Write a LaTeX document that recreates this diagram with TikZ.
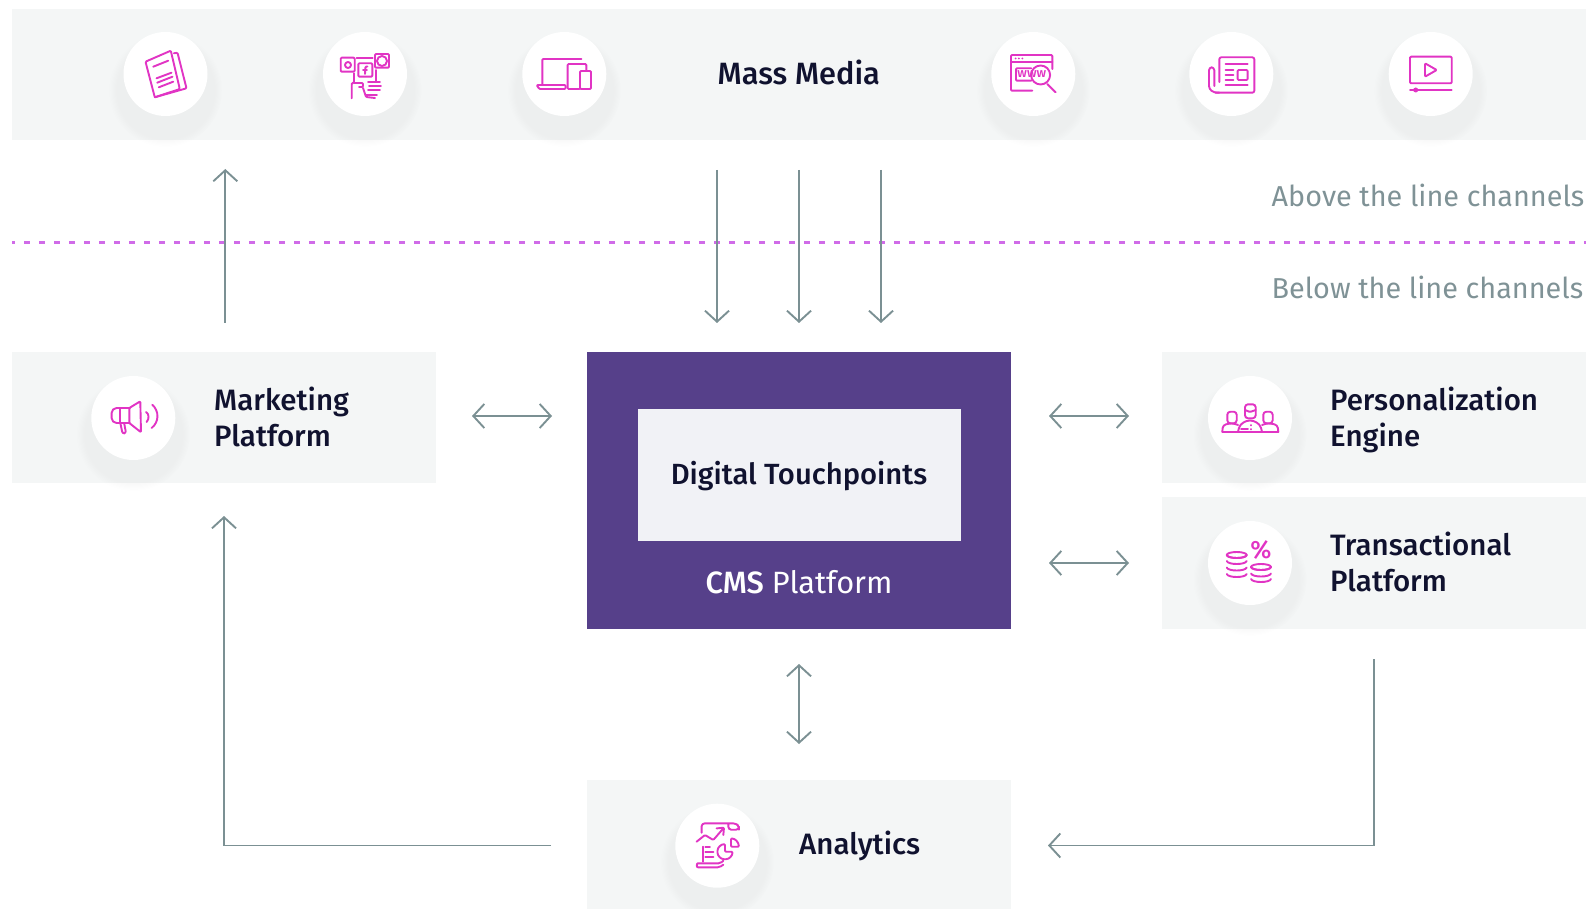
\documentclass[tikz,border=0pt]{standalone}
\usepackage{fontspec}
\setmainfont{Fira Sans}[BoldFont={Fira Sans Medium}]
\usepackage{tikz}
\usetikzlibrary{arrows.meta,shadows,positioning,calc}

\definecolor{bandgray}{HTML}{F4F6F6}
\definecolor{cmspurple}{HTML}{56408A}
\definecolor{innergray}{HTML}{F1F2F6}
\definecolor{inkdark}{HTML}{10122F}
\definecolor{flowgray}{HTML}{7B9093}
\definecolor{notegray}{HTML}{7F9296}
\definecolor{iconpink}{HTML}{E134C4}
\definecolor{dotpurple}{HTML}{D06BE8}

\tikzset{
  band/.style={fill=bandgray,inner sep=0pt},
  lbl/.style={anchor=west,align=left,inner sep=0pt,text=inkdark,font=\fontsize{29.5}{35.5}\selectfont\bfseries},
  note/.style={anchor=west,inner sep=0pt,text=notegray,font=\fontsize{28.8}{36}\selectfont},
  iconcircle/.style={circle,fill=white,minimum size=84pt,inner sep=0pt,
    circular drop shadow={shadow xshift=0pt,shadow yshift=-12pt,shadow scale=1.35,opacity=.06}},
  flow/.style={draw=flowgray,line width=1.9pt,{Straight Barb[length=11pt,width=24pt]}-{Straight Barb[length=11pt,width=24pt]}},
  flowto/.style={draw=flowgray,line width=1.9pt,-{Straight Barb[length=11pt,width=24pt]}},
  ico/.style={draw=iconpink,line width=1.9pt,line cap=round,line join=round,rounded corners=1pt},
  pics/paperico/.style={code={
    \draw[ico] (-20,-12.3) -- (5.3,-23.3) -- (14.3,15) -- (-10.7,23.3) -- cycle;
    \draw[ico] (8.3,-20.7) -- (12,-21.3) -- (21,14.3) -- (-10.7,23.3);
    \draw[ico] (-12.3,-7.3) -- (2.7,-13.3) (-9,4.3) -- (6,-1.3) (-8.3,8.7) -- (7,2.7) (-6.7,13.3) -- (7.7,7.7);
  }},
  pics/socialico/.style={code={
    \draw[ico] (-24.3,-16.3) rectangle (-10.3,-2.3) (-6.7,-10.7) rectangle (7.3,2.7) (10,-20) rectangle (24,-6.3);
    \draw[ico] (-8.3,-15.7) -- (7.7,-15.7);
    \draw[ico] (-17,-9) circle (3) (17,-13) circle (5);
    \draw[ico] (2.5,-7.5) -- (0.5,-7.5) -- (0,0) (-2,-4) -- (2,-4);
    \draw[ico] (-11,-0.7) -- (-11,9) -- (-13.3,9) -- (-13.3,24.3) (-11,9) -- (-2,9) -- (-2,13) -- (-6,13);
    \draw[ico] (11,-4) -- (11,7) (3,8) -- (15,8) (4,12) -- (16,12) (3,16) -- (15,16) (1,21) -- (12,21) (-2,14) -- (1,23) -- (10,24);
  }},
  pics/devicesico/.style={code={
    \draw[ico] (-22,10) -- (-22,-15) -- (17,-15);
    \draw[ico] (-27.7,11) -- (1.3,11) -- (1.3,15) -- (-25,15) -- cycle;
    \draw[ico] (15,15) -- (3.3,15) -- (3.3,-10) -- (22,-10) -- (22,-3);
    \draw[ico] (15.7,-3) rectangle (26.7,15);
  }},
  pics/wwwico/.style={code={
    \draw[ico] (-1,16.7) -- (-22.3,16.7) -- (-22.3,-19) -- (19,-19) -- (19,-5);
    \draw[ico] (-22.3,-12.3) -- (19,-12.3);
    \fill[iconpink] (-17.7,-15.5) circle (1) (-14.5,-15.5) circle (1) (-11,-15.5) circle (1);
    \draw[ico] (-2,6.7) -- (-17.3,6.7) -- (-17.3,-5.7) -- (-2,-5.7);
    \draw[ico] (7.3,1) circle (9.5);
    \draw[ico] (14,10) -- (22.3,18.3);
    \node[inner sep=0pt,text=iconpink,font=\fontsize{13}{13}\selectfont\bfseries] (www) at (-1.5,0.5) {www};
  }},
  pics/newsico/.style={code={
    \draw[ico,rounded corners=2pt] (-12,8) -- (-12,-16.7) -- (23,-16.7) -- (23,18.7) -- (-16,18.7);
    \draw[ico,rounded corners=3pt] (-12,18.7) -- (-17,18.7) -- (-22.3,15) -- (-22.3,-6.7) -- (-17,-6.7) -- (-17,12);
    \draw[ico] (-5.7,-10) -- (16.3,-10) (-5.7,11) -- (16.3,11);
    \draw[ico] (-5.7,-4) -- (2,-4) (-5.7,1) -- (2,1) (-5.7,6) -- (2,6);
    \draw[ico] (6.3,-4) rectangle (16.3,6);
  }},
  pics/videoico/.style={code={
    \draw[ico] (-20.7,-17.3) rectangle (21,9.3);
    \draw[ico] (-5.7,-10.7) -- (6,-4) -- (-5.7,2.7) -- cycle;
    \draw[ico] (-20.7,16) -- (21,16);
    \fill[iconpink] (-15,16) circle (2.5);
  }},
  pics/megaico/.style={code={
    \draw[ico] (-4,-10) -- (7,-16.7) -- (7.7,14.3) -- (-4,5) -- cycle;
    \draw[ico,rounded corners=5pt] (-4,-10) -- (-21.7,-10) -- (-21.7,5) -- (-4,5);
    \draw[ico] (-13,-10) -- (-13,5);
    \draw[ico,rounded corners=2pt] (-13,5) -- (-10.7,15.7) -- (-7.3,15) -- (-9,6);
    \draw[ico] (12.7,-6) .. controls (16,-4) and (16,1) .. (13.3,4);
    \draw[ico] (19,-13.3) .. controls (26,-7) and (26,4) .. (18.3,10);
  }},
  pics/peopleico/.style={code={
    \draw[ico] (-27.7,13.7) -- (28.3,13.7);
    \draw[ico,rounded corners=3pt] (-5,-13.7) rectangle (5.7,0.3);
    \draw[ico] (-5,-8) -- (0,-6) -- (5.7,-8);
    \draw[ico,rounded corners=3pt] (-22.7,-6.3) rectangle (-13.3,5.3);
    \draw[ico,rounded corners=3pt] (13.3,-6.3) rectangle (22.7,5.3);
    \draw[ico,rounded corners=4pt] (-12,13.7) -- (-10,6) -- (0,1.5) -- (10,6) -- (12,13.7);
    \draw[ico,rounded corners=3pt] (-27.7,13.7) -- (-27,7) -- (-18,5) -- (-12,7);
    \draw[ico,rounded corners=3pt] (28.3,13.7) -- (27.5,7) -- (18,5) -- (12,7);
    \draw[ico] (-9,11) -- (-2,11) (1,7) -- (1,7.5) (1,11) -- (1,11.5);
  }},
  pics/coinsico/.style={code={
    \foreach \yy in {-8,-2,4.5,11} {
      \draw[ico] (-23.3,\yy) .. controls (-22,\yy+4) and (-4.6,\yy+4) .. (-3.3,\yy);
    }
    \draw[ico] (-13.3,-8) ellipse (10 and 3);
    \foreach \yy in {4,10.5,16} {
      \draw[ico] (1,\yy) .. controls (2.3,\yy+4) and (19.7,\yy+4) .. (21,\yy);
    }
    \draw[ico] (11,4) ellipse (10 and 3);
    \node[inner sep=0pt,text=iconpink,font=\fontsize{25}{25}\selectfont\bfseries] (pct) at (11,-13.5) {\%};
  }},
  pics/analyticsico/.style={code={
    \draw[ico,rounded corners=3pt] (-15.7,-13) -- (-15.7,-22.3) -- (19,-22.3) -- (21.7,-19) -- (21.7,-16) -- (11,-16) -- (11,-22);
    \draw[ico] (-20.7,-4) -- (-12.3,-10.7) -- (-4,-5.7) -- (6,-17.3);
    \draw[ico] (-0.7,-17.3) -- (6.7,-18) -- (6,-10.7);
    \draw[ico] (-14,1) -- (-14,16);
    \draw[ico] (-12,1.7) -- (-7.3,1.7) (-12,6) -- (-4,6) (-12,11) -- (-4,11);
    \draw[ico] (7.7,-1.5) .. controls (3.6,-1.5) and (0.2,1.9) .. (0.2,6) .. controls (0.2,10.1) and (3.6,13.5) .. (7.7,13.5) .. controls (11.8,13.5) and (15.2,10.1) .. (15.2,6) -- (7.7,6) -- cycle;
    \draw[ico] (13.7,-7.3) .. controls (18,-7) and (21,-4) .. (21.7,1) -- (13.7,1) -- cycle;
    \draw[ico,rounded corners=2pt] (-20,17.7) -- (3,17.7) -- (6,15) (-20,17.7) -- (-21,21.7) -- (2,21.7) -- (6,19);
  }},
}

\begin{document}
\begin{tikzpicture}[x=1pt,y=-1pt]
  \useasboundingbox (0,0) rectangle (1591,909);

  % bands
  \node[band,minimum width=1574pt,minimum height=131pt] (mass) at (799,74.5) {};
  \node[band,minimum width=424pt,minimum height=131pt] (mkt) at (224,417.5) {};
  \node[band,minimum width=424pt,minimum height=131pt] (pers) at (1374,417.5) {};
  \node[band,minimum width=424pt,minimum height=132pt] (trans) at (1374,563) {};
  \node[band,minimum width=424.5pt,minimum height=129pt] (ana) at (798.75,844.5) {};
  \node[fill=cmspurple,minimum width=424.5pt,minimum height=277pt,inner sep=0pt] (cms) at (798.75,490.5) {};
  \node[fill=innergray,minimum width=323pt,minimum height=132pt,inner sep=0pt] (touch) at (799,475) {};
  \node[inner sep=0pt,text=inkdark,font=\fontsize{29.2}{36}\selectfont\bfseries] (touchlbl) at (799,476) {Digital Touchpoints};
  \node[inner sep=0pt,text=white,font=\fontsize{30.8}{36}\selectfont] (cmslbl) at (799,582) {\textbf{CMS} Platform};

  % labels
  \node[lbl,font=\fontsize{30.8}{36}\selectfont\bfseries] (masslbl) at (717.5,72) {Mass Media};
  \node[lbl] (mktlbl) at (214,417) {Marketing\\Platform};
  \node[lbl] (perslbl) at (1330,420) {Personalization\\Engine};
  \node[lbl] (translbl) at (1330,562) {Transactional\\Platform};
  \node[lbl] (analbl) at (799,846) {Analytics};
  \node[note] (above) at (1271.5,195) {Above the line channels};
  \node[note] (below) at (1271.5,287) {Below the line channels};

  % icons
  \node[iconcircle] (c1) at (165.5,74) {};
  \node[iconcircle] (c2) at (365,74) {};
  \node[iconcircle] (c3) at (564.3,74) {};
  \node[iconcircle] (c4) at (1033.3,74) {};
  \node[iconcircle] (c5) at (1231.3,74) {};
  \node[iconcircle] (c6) at (1430.7,74) {};
  \node[iconcircle] (c7) at (133.3,418) {};
  \node[iconcircle] (c8) at (1250,418) {};
  \node[iconcircle] (c9) at (1250,563) {};
  \node[iconcircle] (c10) at (717.3,845.7) {};
  \pic at (c1) {paperico};
  \pic at (c2) {socialico};
  \pic at (c3) {devicesico};
  \pic at (c4) {wwwico};
  \pic at (c5) {newsico};
  \pic at (c6) {videoico};
  \pic at (c7) {megaico};
  \pic at (c8) {peopleico};
  \pic at (c9) {coinsico};
  \pic at (c10) {analyticsico};

  % line between channels
  \coordinate (dl) at (12,242.5);
  \coordinate (dr) at (1586,242.5);
  \draw[dotpurple,line width=3pt,dash pattern=on 6pt off 9pt,dash phase=3pt] (dl) -- (dr);

  % free ends of the arrows
  \coordinate (u0) at (225.3,323);
  \coordinate (u1) at (225.3,169);
  \coordinate (d1) at (717,170);
  \coordinate (e1) at (717,323);
  \coordinate (d2) at (799,170);
  \coordinate (e2) at (799,323);
  \coordinate (d3) at (881,170);
  \coordinate (e3) at (881,323);
  \coordinate (h1) at (472,416);
  \coordinate (h2) at (552,416);
  \coordinate (h3) at (1049,416);
  \coordinate (h4) at (1129,416);
  \coordinate (h5) at (1049,563);
  \coordinate (h6) at (1129,563);
  \coordinate (v1) at (799,664);
  \coordinate (v2) at (799,744);
  \coordinate (l1) at (551,845.5);
  \coordinate (l2) at (224,516);
  \coordinate (r1) at (1374,659);
  \coordinate (r2) at (1048,845.5);

  \draw[flowto] (u0) -- (u1);
  \draw[flowto] (d1) -- (e1);
  \draw[flowto] (d2) -- (e2);
  \draw[flowto] (d3) -- (e3);
  \draw[flow] (h1) -- (h2);
  \draw[flow] (h3) -- (h4);
  \draw[flow] (h5) -- (h6);
  \draw[flow] (v1) -- (v2);
  \draw[flowto] (l1) -| (l2);
  \draw[flowto] (r1) |- (r2);
\end{tikzpicture}
\end{document}
